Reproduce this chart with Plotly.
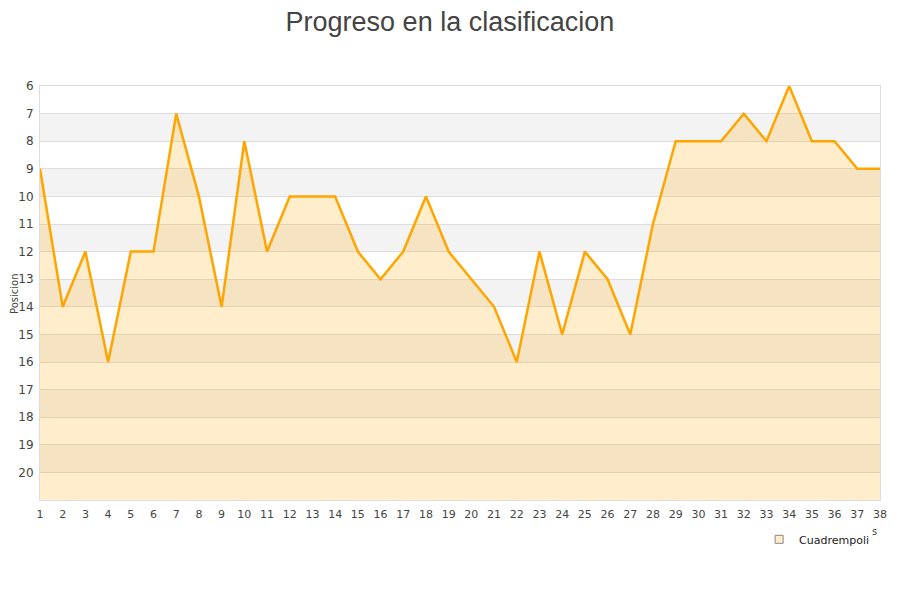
import plotly.graph_objects as go

# jornadas y posicion en la tabla
jornadas = list(range(1, 39))
posiciones = [9, 14, 12, 16, 12, 12, 7, 10, 14, 8,
              12, 10, 10, 10, 12, 13, 12, 10, 12, 13,
              14, 16, 12, 15, 12, 13, 15, 11, 8, 8,
              8, 7, 8, 6, 8, 8, 9, 9]
equipo = 'Cuadrempoli'
titulo = 'Progreso en la clasificacion'
y_min, y_max = 6, 21
ticks_y = list(range(6, 21))

naranja = '#FFA500'
relleno = 'rgba(255,165,0,0.2)'
fuente = 'DejaVu Sans'

fig = go.Figure()

# franjas grises alternas del fondo
for y0 in range(7, 21, 2):
    fig.add_shape(type='rect', xref='paper', yref='y', x0=0, x1=1, y0=y0, y1=y0 + 1,
                  fillcolor='#F3F3F3', line_width=0, layer='below')

# linea base para el relleno hasta el fondo
fig.add_trace(go.Scatter(x=jornadas, y=[y_max] * len(jornadas), mode='lines',
                         line=dict(width=0), hoverinfo='skip', showlegend=False))
fig.add_trace(go.Scatter(x=jornadas, y=posiciones, mode='lines', name=equipo,
                         line=dict(color=naranja, width=2.5), fill='tonexty',
                         fillcolor=relleno, showlegend=False))
# entrada de leyenda con cuadrito
fig.add_trace(go.Scatter(x=[None], y=[None], mode='markers', name=equipo,
                         marker=dict(symbol='square', size=8, color='#FFEDCC',
                                     line=dict(color='#888888', width=1))))

fig.update_layout(
    width=900, height=600,
    plot_bgcolor='white', paper_bgcolor='white',
    margin=dict(l=32, r=28, t=78, b=108, autoexpand=False),
    title=dict(text=titulo, x=0.491, xanchor='center', y=0.977, yanchor='middle',
               font=dict(family='Liberation Sans, Arial', size=27, color='#444444')),
    font=dict(family=fuente, color='#444444'),
    showlegend=True,
    legend=dict(x=0.993, xanchor='right', y=-0.06, yanchor='top',
                font=dict(family=fuente, size=11, color='#222222'),
                bgcolor='rgba(0,0,0,0)'),
)

fig.update_xaxes(range=[1, 38], tickmode='array', tickvals=jornadas,
                 ticktext=[str(j) for j in jornadas], showgrid=False,
                 showline=True, linecolor='#DDDDDD', mirror=True, zeroline=False,
                 ticks='', tickfont=dict(size=11, color='#444444'), automargin=False,
                 ticklabelstandoff=4)
fig.update_yaxes(range=[y_max, y_min], tickmode='array', tickvals=ticks_y,
                 showgrid=True, gridcolor='#DDDDDD', gridwidth=1,
                 showline=True, linecolor='#DDDDDD', mirror=True, zeroline=False,
                 ticks='', tickfont=dict(size=12, color='#444444'), automargin=False,
                 ticklabelstandoff=3)

# titulo del eje y como anotacion
fig.add_annotation(text='Posicion', xref='paper', yref='paper', x=-0.031, y=0.5,
                   xanchor='center', yanchor='middle', textangle=-90, showarrow=False,
                   font=dict(size=10, color='#444444'))
fig.add_annotation(text='s', xref='paper', yref='paper', x=0.994, y=-0.094,
                   xanchor='center', showarrow=False, font=dict(size=10, color='#444444'))

fig.write_html("out.html")
